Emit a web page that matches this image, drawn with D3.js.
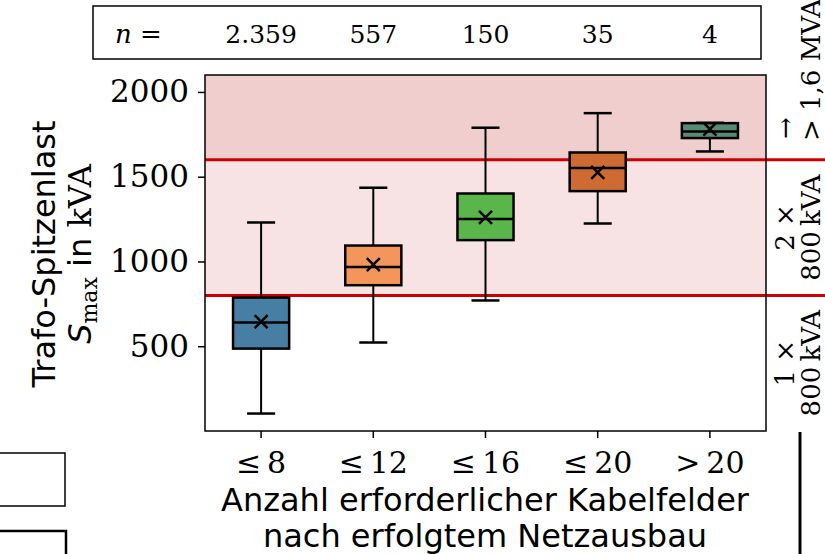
<!DOCTYPE html>
<html>
<head>
<meta charset="utf-8">
<script src="https://cdn.jsdelivr.net/npm/d3@7"></script>
<style>
  body { margin: 0; background: #fff; }
  svg { display: block; }
</style>
</head>
<body>
<div id="chart-area"></div>
<script>
// values
var categories = ['≤\u20098', '≤\u200912', '≤\u200916', '≤\u200920', '>\u200920'];
var counts = ['2.359', '557', '150', '35', '4'];
var whiskerLow = [103, 522, 770, 1224, 1649];
var q1 = [486, 860, 1126, 1415, 1728];
var medians = [640, 968, 1250, 1551, 1767];
var q3 = [787, 1094, 1401, 1643, 1816];
var whiskerHigh = [1230, 1435, 1789, 1875, 1818];
var means = [645, 982, 1260, 1525, 1781];
var boxColors = ['#467fa3', '#f4955b', '#5ab64a', '#cd6b33', '#5a8a73'];
var yTicks = [500, 1000, 1500, 2000];
var limits = [800, 1600];

var svg = d3.select('#chart-area').append('svg')
  .attr('width', 825)
  .attr('height', 554);

var plotLeft = 205, plotRight = 766, plotTop = 75, plotBottom = 431;

var x = d3.scaleBand()
  .domain(categories)
  .range([plotLeft, plotRight])
  .padding(0);

var y = d3.scaleLinear()
  .domain([0, 2100])
  .range([plotBottom, plotTop]);

function cx(d) {
  return x(d) + x.bandwidth() / 2;
}

// shaded zones
svg.append('rect')
  .attr('x', plotLeft)
  .attr('y', y(2100))
  .attr('width', plotRight - plotLeft)
  .attr('height', y(limits[1]) - y(2100))
  .attr('fill', '#f0cece');

svg.append('rect')
  .attr('x', plotLeft)
  .attr('y', y(limits[1]))
  .attr('width', plotRight - plotLeft)
  .attr('height', y(limits[0]) - y(limits[1]))
  .attr('fill', '#f7e3e3');

svg.selectAll('.limit')
  .data(limits)
  .enter()
  .append('line')
    .attr('class', 'limit')
    .attr('x1', plotLeft)
    .attr('x2', 825)
    .attr('y1', function(d) { return y(d); })
    .attr('y2', function(d) { return y(d); })
    .attr('stroke', '#cc0000')
    .attr('stroke-width', 3);

// boxes
var boxes = categories.map(function(c, i) {
  return { cat: c, lo: whiskerLow[i], q1: q1[i], med: medians[i], q3: q3[i],
    hi: whiskerHigh[i], mean: means[i], color: boxColors[i] };
});

var boxW = x.bandwidth() * 0.5;
var capW = boxW * 0.5;

var g = svg.selectAll('.box')
  .data(boxes)
  .enter()
  .append('g')
    .attr('class', 'box');

g.append('line')
  .attr('x1', function(d) { return cx(d.cat); })
  .attr('x2', function(d) { return cx(d.cat); })
  .attr('y1', function(d) { return y(d.lo); })
  .attr('y2', function(d) { return y(d.q1); })
  .attr('stroke', '#000')
  .attr('stroke-width', 2);

g.append('line')
  .attr('x1', function(d) { return cx(d.cat); })
  .attr('x2', function(d) { return cx(d.cat); })
  .attr('y1', function(d) { return y(d.q3); })
  .attr('y2', function(d) { return y(d.hi); })
  .attr('stroke', '#000')
  .attr('stroke-width', 2);

['lo', 'hi'].forEach(function(k) {
  g.append('line')
    .attr('x1', function(d) { return cx(d.cat) - capW / 2; })
    .attr('x2', function(d) { return cx(d.cat) + capW / 2; })
    .attr('y1', function(d) { return y(d[k]); })
    .attr('y2', function(d) { return y(d[k]); })
    .attr('stroke', '#000')
    .attr('stroke-width', 2.5);
});

g.append('rect')
  .attr('x', function(d) { return cx(d.cat) - boxW / 2; })
  .attr('y', function(d) { return y(d.q3); })
  .attr('width', boxW)
  .attr('height', function(d) { return y(d.q1) - y(d.q3); })
  .attr('fill', function(d) { return d.color; })
  .attr('stroke', '#000')
  .attr('stroke-width', 2.5);

g.append('line')
  .attr('x1', function(d) { return cx(d.cat) - boxW / 2; })
  .attr('x2', function(d) { return cx(d.cat) + boxW / 2; })
  .attr('y1', function(d) { return y(d.med); })
  .attr('y2', function(d) { return y(d.med); })
  .attr('stroke', '#000')
  .attr('stroke-width', 2.5);

g.append('path')
  .attr('d', function(d) {
    var px = cx(d.cat), py = y(d.mean), s = 6.5;
    return 'M' + (px - s) + ',' + (py - s) + 'L' + (px + s) + ',' + (py + s) +
      'M' + (px - s) + ',' + (py + s) + 'L' + (px + s) + ',' + (py - s);
  })
  .attr('stroke', '#000')
  .attr('stroke-width', 2.5)
  .attr('fill', 'none');

// frame
svg.append('rect')
  .attr('x', plotLeft)
  .attr('y', plotTop)
  .attr('width', plotRight - plotLeft)
  .attr('height', plotBottom - plotTop)
  .attr('fill', 'none')
  .attr('stroke', '#000')
  .attr('stroke-width', 1.5);

// axes
var yAxis = svg.append('g')
  .attr('transform', 'translate(' + plotLeft + ',0)')
  .call(d3.axisLeft(y).tickValues(yTicks).tickFormat(d3.format('d')).tickSize(7).tickPadding(9));
yAxis.select('.domain').remove();
yAxis.selectAll('line').attr('stroke-width', 1.5);
yAxis.selectAll('text')
  .attr('font-family', 'DejaVu Serif')
  .attr('font-size', 31)
  .attr('fill', '#000');

var xAxis = svg.append('g')
  .attr('transform', 'translate(0,' + plotBottom + ')')
  .call(d3.axisBottom(x).tickSize(7).tickPadding(14));
xAxis.select('.domain').remove();
xAxis.selectAll('line').attr('stroke-width', 1.5);
xAxis.selectAll('text')
  .attr('font-family', 'DejaVu Serif')
  .attr('font-size', 30)
  .attr('fill', '#000');

// axis titles
svg.append('text')
  .attr('x', 485)
  .attr('y', 511)
  .attr('text-anchor', 'middle')
  .attr('font-family', 'DejaVu Sans')
  .attr('font-size', 32)
  .text('Anzahl erforderlicher Kabelfelder');

svg.append('text')
  .attr('x', 485)
  .attr('y', 547)
  .attr('text-anchor', 'middle')
  .attr('font-family', 'DejaVu Sans')
  .attr('font-size', 32)
  .text('nach erfolgtem Netzausbau');

svg.append('text')
  .attr('transform', 'translate(55,254) rotate(-90)')
  .attr('text-anchor', 'middle')
  .attr('font-family', 'DejaVu Sans')
  .attr('font-size', 32)
  .text('Trafo-Spitzenlast');

var yl2 = svg.append('text')
  .attr('transform', 'translate(91,254) rotate(-90)')
  .attr('text-anchor', 'middle')
  .attr('font-size', 32);
yl2.append('tspan').attr('font-family', 'DejaVu Sans').attr('font-style', 'italic').text('S');
yl2.append('tspan').attr('font-family', 'DejaVu Serif').attr('font-size', 22).attr('dy', 6).text('max');
yl2.append('tspan').attr('font-family', 'DejaVu Sans').attr('dy', -6).text(' in ');
yl2.append('tspan').attr('font-family', 'DejaVu Serif').text('kVA');

// n row
svg.append('rect')
  .attr('x', 93)
  .attr('y', 6)
  .attr('width', 668)
  .attr('height', 53)
  .attr('fill', 'none')
  .attr('stroke', '#000')
  .attr('stroke-width', 1.5);

var nLabel = svg.append('text')
  .attr('x', 115)
  .attr('y', 43)
  .attr('font-family', 'DejaVu Serif')
  .attr('font-size', 26);
nLabel.append('tspan').attr('font-style', 'italic').text('n');
nLabel.append('tspan').text(' =');

svg.selectAll('.count')
  .data(counts)
  .enter()
  .append('text')
    .attr('class', 'count')
    .attr('x', function(d, i) { return cx(categories[i]); })
    .attr('y', 43)
    .attr('text-anchor', 'middle')
    .attr('font-family', 'DejaVu Serif')
    .attr('font-size', 25)
    .text(function(d) { return d; });

// zone labels on the right
function sideText(px, py, anchor, str) {
  svg.append('text')
    .attr('transform', 'translate(' + px + ',' + py + ') rotate(-90)')
    .attr('text-anchor', anchor)
    .attr('dominant-baseline', 'central')
    .attr('font-family', 'DejaVu Serif')
    .attr('font-size', 26)
    .text(str);
}
sideText(785, 128, 'middle', '→');
sideText(811, 141, 'start', '> 1,6 MVA');
sideText(785, y(1200), 'middle', '2 ×');
sideText(811, y(1200), 'middle', '800\u2009kVA');
sideText(785, y(400), 'middle', '1 ×');
sideText(811, y(400), 'middle', '800\u2009kVA');

// cut-off bits at the bottom edge
svg.append('rect')
  .attr('x', -5).attr('y', 453).attr('width', 70).attr('height', 53)
  .attr('fill', 'none').attr('stroke', '#000').attr('stroke-width', 1.5);
svg.append('rect')
  .attr('x', -5).attr('y', 531).attr('width', 71).attr('height', 60)
  .attr('fill', 'none').attr('stroke', '#000').attr('stroke-width', 2.5);
svg.append('line')
  .attr('x1', 800).attr('x2', 800).attr('y1', 432).attr('y2', 554)
  .attr('stroke', '#000').attr('stroke-width', 3);
</script>
</body>
</html>
